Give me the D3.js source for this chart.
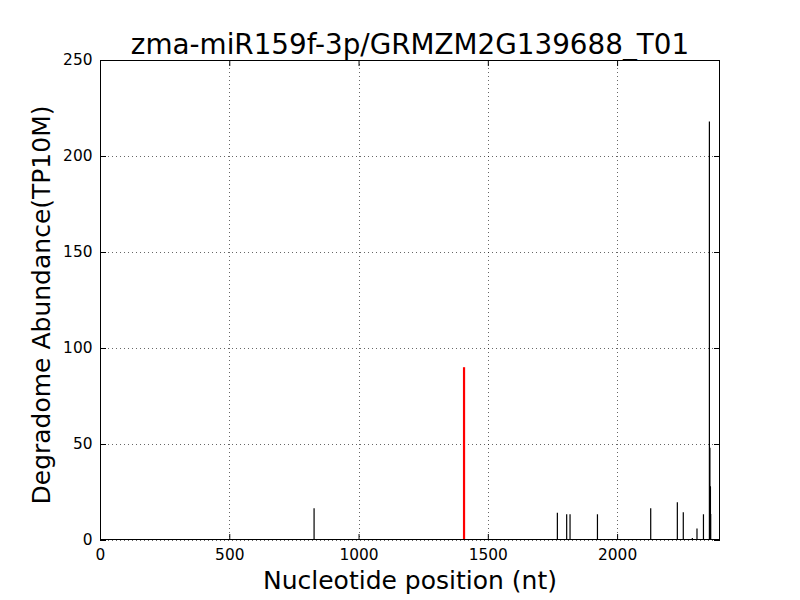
<!DOCTYPE html>
<html><head><meta charset="utf-8">
<script src="https://cdn.jsdelivr.net/npm/d3@7"></script>
<style>body{margin:0;background:#fff}svg{display:block}</style>
</head><body>
<svg id="c" width="800" height="600"></svg>
<script>
const titleText = "zma-miR159f-3p/GRMZM2G139688_T01";
const xLabel = "Nucleotide position (nt)";
const yLabel = "Degradome Abundance(TP10M)";
const xMax = 2398;
const xTicks = [0, 500, 1000, 1500, 2000];
const yTicks = [0, 50, 100, 150, 200, 250];
const positions = [828, 1769, 1805, 1818, 1924, 2130, 2233, 2256, 2291, 2309, 2334, 2357, 2359, 2361, 2362];
const abundances = [16.5, 14.2, 13.4, 13.4, 13.4, 16.5, 19.6, 14.4, 1, 6, 13.4, 218, 48, 28, 13.5];
const targetPos = [1408];
const targetVal = [90];

const svg = d3.select("#c");
const m = {l:100, r:80, t:60, b:60};
const W = 800, H = 600;
const x = d3.scaleLinear().domain([0, xMax]).range([m.l, W - m.r]);
const y = d3.scaleLinear().domain([0, 250]).range([H - m.b, m.t]);
const font = "DejaVu Sans, sans-serif";

// grid
const g = svg.append("g");
g.selectAll(".gx").data(xTicks).join("line")
  .attr("x1", d => Math.round(x(d)) + 0.5).attr("x2", d => Math.round(x(d)) + 0.5)
  .attr("y1", m.t).attr("y2", H - m.b)
  .attr("stroke", "#000").attr("stroke-width", 0.6).attr("stroke-dasharray", "1,3");
g.selectAll(".gy").data(yTicks).join("line")
  .attr("y1", d => Math.round(y(d)) + 0.5).attr("y2", d => Math.round(y(d)) + 0.5)
  .attr("x1", m.l).attr("x2", W - m.r)
  .attr("stroke", "#000").attr("stroke-width", 0.6).attr("stroke-dasharray", "1,3");

// bars
svg.append("g").selectAll("line").data(positions.map((p, i) => [p, abundances[i]])).join("line")
  .attr("x1", d => x(d[0])).attr("x2", d => x(d[0]))
  .attr("y1", y(0)).attr("y2", d => y(d[1]))
  .attr("stroke", "#000").attr("stroke-width", 1.2);
svg.append("g").selectAll("line").data(targetPos.map((p, i) => [p, targetVal[i]])).join("line")
  .attr("x1", d => x(d[0])).attr("x2", d => x(d[0]))
  .attr("y1", y(0)).attr("y2", d => y(d[1]))
  .attr("stroke", "#ff0000").attr("stroke-width", 2.2);

// axes (ticks inward on all sides)
const tl = 6;
const fmt = d3.format("d");
const axB = svg.append("g").attr("transform", `translate(0,${H - m.b})`)
  .call(d3.axisBottom(x).tickValues(xTicks).tickFormat(fmt).tickSizeInner(-tl).tickSizeOuter(0).tickPadding(9));
const axT = svg.append("g").attr("transform", `translate(0,${m.t})`)
  .call(d3.axisTop(x).tickValues(xTicks).tickSizeInner(-tl).tickSizeOuter(0).tickFormat(""));
const axL = svg.append("g").attr("transform", `translate(${m.l},0)`)
  .call(d3.axisLeft(y).tickValues(yTicks).tickFormat(fmt).tickSizeInner(-tl).tickSizeOuter(0).tickPadding(7.5));
const axR = svg.append("g").attr("transform", `translate(${W - m.r},0)`)
  .call(d3.axisRight(y).tickValues(yTicks).tickSizeInner(-tl).tickSizeOuter(0).tickFormat(""));
[axB, axT, axL, axR].forEach(a => {
  a.select(".domain").remove();
  a.selectAll("text").attr("font-family", font).attr("font-size", 15.4).attr("fill", "#000");
  a.selectAll("line").attr("stroke", "#000");
});

// frame
svg.append("rect").attr("x", m.l + 0.5).attr("y", m.t + 0.5)
  .attr("width", W - m.l - m.r - 1).attr("height", H - m.t - m.b - 1)
  .attr("fill", "none").attr("stroke", "#000").attr("stroke-width", 1);

// labels
svg.append("text").attr("x", (m.l + W - m.r) / 2).attr("y", 54)
  .attr("text-anchor", "middle").attr("font-family", font).attr("font-size", 27.8)
  .text(titleText);
svg.append("text").attr("x", (m.l + W - m.r) / 2).attr("y", 589)
  .attr("text-anchor", "middle").attr("font-family", font).attr("font-size", 25)
  .text(xLabel);
svg.append("text").attr("transform", `translate(50,305) rotate(-90)`)
  .attr("text-anchor", "middle").attr("font-family", font).attr("font-size", 25)
  .text(yLabel);
</script>
</body></html>
